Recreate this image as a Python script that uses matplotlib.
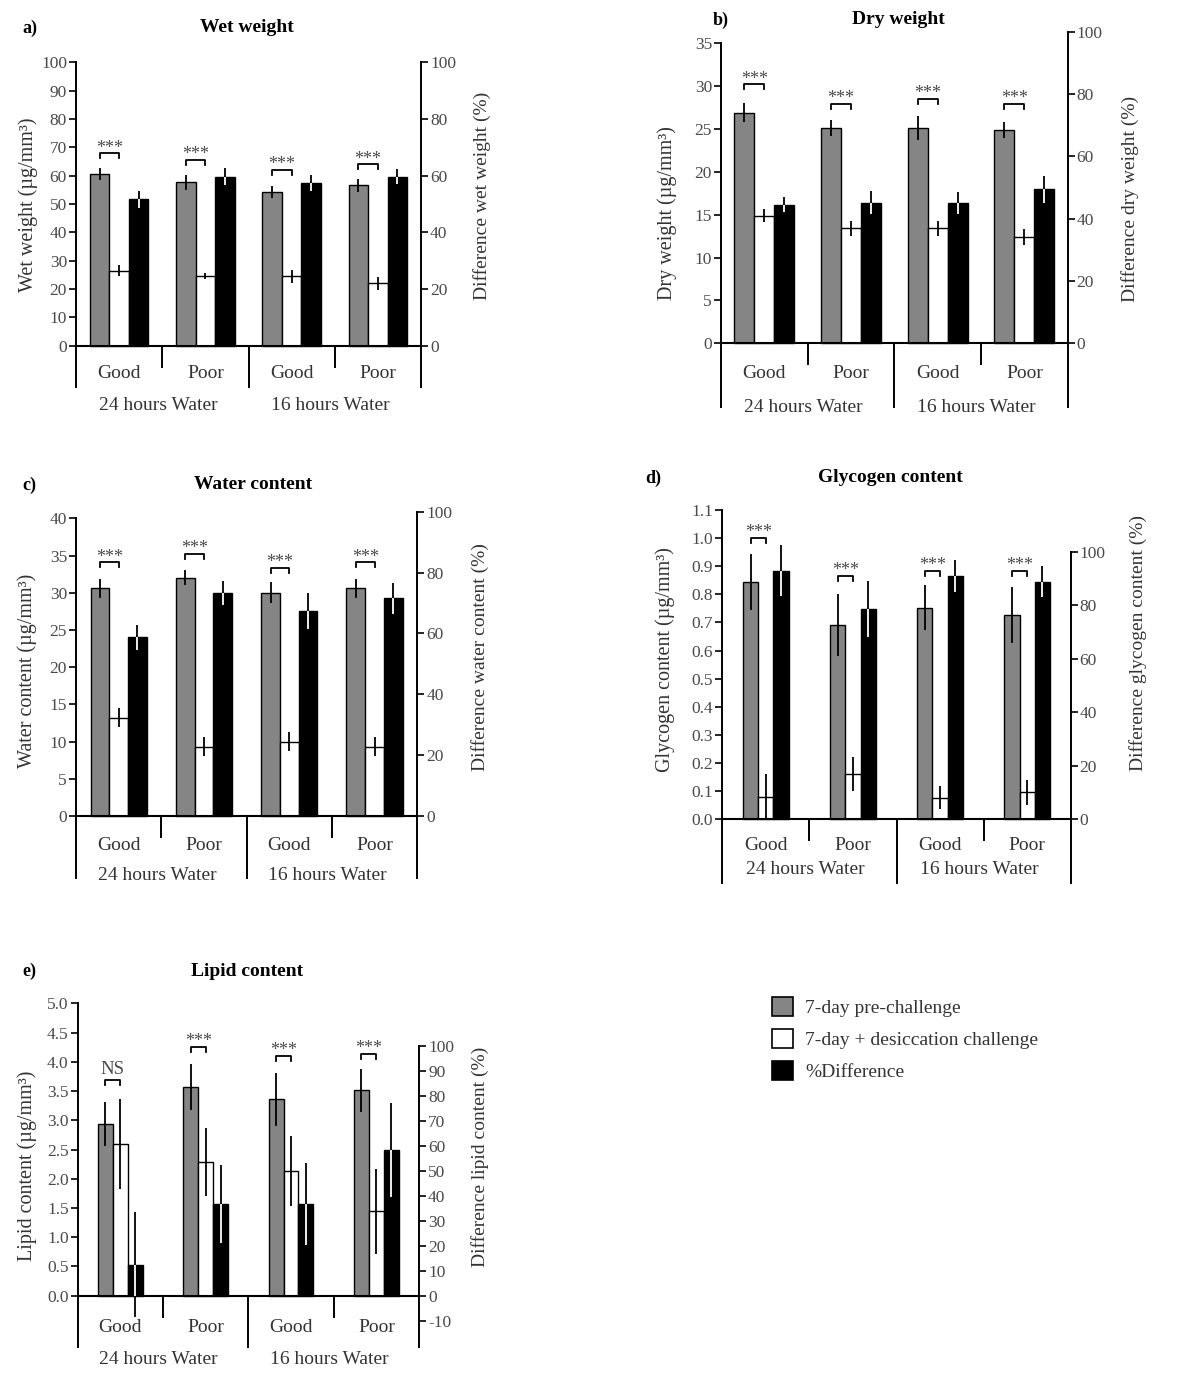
import matplotlib
matplotlib.use('Agg')
import matplotlib.pyplot as plt
import numpy as np
from matplotlib.patches import Patch

W, H = 1200, 1377
plt.rcParams['font.family'] = ['Liberation Serif', 'DejaVu Serif']

categories = ['Good', 'Poor', 'Good', 'Poor']
groups = ['24 hours Water', '16 hours Water']
legend_labels = ['7-day pre-challenge', '7-day + desiccation challenge', '%Difference']

# ---- a) Wet weight
wet_pre = [60.6, 57.7, 54.2, 56.6]
wet_pre_err = [2.0, 2.6, 2.2, 2.3]
wet_chal = [26.5, 24.6, 24.5, 22.0]
wet_chal_err = [2.0, 1.2, 2.3, 2.2]
wet_diff = [51.6, 59.7, 57.3, 59.7]
wet_diff_err = [2.9, 2.9, 2.8, 2.8]
wet_sig = ['***', '***', '***', '***']
wet_sig_y = [67.9, 65.5, 62.0, 64.0]

# ---- b) Dry weight
dry_pre = [26.9, 25.1, 25.1, 24.9]
dry_pre_err = [1.1, 0.9, 1.4, 0.9]
dry_chal = [14.9, 13.4, 13.4, 12.4]
dry_chal_err = [0.8, 0.85, 0.9, 0.9]
dry_diff = [44.5, 45.1, 45.1, 49.4]
dry_diff_err = [2.4, 3.7, 3.5, 4.4]
dry_sig = ['***', '***', '***', '***']
dry_sig_y = [30.2, 27.9, 28.5, 27.9]

# ---- c) Water content
water_pre = [30.6, 32.0, 30.0, 30.6]
water_pre_err = [1.3, 1.0, 1.4, 1.3]
water_chal = [13.2, 9.3, 10.0, 9.3]
water_chal_err = [1.3, 1.3, 1.3, 1.3]
water_diff = [58.7, 73.2, 67.4, 71.5]
water_diff_err = [4.0, 4.0, 6.0, 5.0]
water_sig = ['***', '***', '***', '***']
water_sig_y = [34.1, 35.2, 33.3, 34.1]

# ---- d) Glycogen content
glyc_pre = [0.845, 0.691, 0.753, 0.727]
glyc_pre_err = [0.10, 0.11, 0.08, 0.10]
glyc_chal = [0.08, 0.16, 0.077, 0.096]
glyc_chal_err = [0.08, 0.06, 0.04, 0.045]
glyc_diff = [92.9, 78.5, 90.9, 88.8]
glyc_diff_err = [9.6, 10.5, 6.0, 5.7]
glyc_sig = ['***', '***', '***', '***']
glyc_sig_y = [1.0, 0.865, 0.883, 0.883]

# ---- e) Lipid content
lipid_pre = [2.94, 3.57, 3.36, 3.51]
lipid_pre_err = [0.38, 0.40, 0.45, 0.37]
lipid_chal = [2.59, 2.28, 2.13, 1.44]
lipid_chal_err = [0.77, 0.58, 0.60, 0.72]
lipid_diff = [12.3, 36.7, 36.7, 58.3]
lipid_diff_err = [21.0, 15.5, 16.5, 18.7]
lipid_sig = ['NS', '***', '***', '***']
lipid_sig_y = [3.69, 4.26, 4.10, 4.13]

GRAY = '#858585'
TXT = '#333333'
TICK = '#4a4a4a'

fig = plt.figure(figsize=(W / 100, H / 100), dpi=100)


def ftext(x, y, s, **kw):
    fig.text(x / W, 1 - y / H, s, **kw)


panels = [
    dict(letter='a)', title='Wet weight', lx=22, ly=28, tx=247, ty=28,
         px=(76, 421, 345.7, 62.3, 100, 62.3, 387), lticks=np.arange(0, 101, 10), lfmt='%d',
         rticks=np.arange(0, 101, 20), width=0.227,
         ylab='Wet weight (µg/mm³)', ylab_xy=(28, 205),
         rlab='Difference wet weight (%)', rlab_xy=(482, 196),
         cat_y=373, grp_y=405,
         pre=wet_pre, pre_err=wet_pre_err, chal=wet_chal, chal_err=wet_chal_err,
         diff=wet_diff, diff_err=wet_diff_err, sig=wet_sig, sig_y=wet_sig_y),
    dict(letter='b)', title='Dry weight', lx=713, ly=20, tx=898, ty=20,
         px=(721, 1067.7, 343.3, 43.3, 35, 31.7, 407), lticks=np.arange(0, 36, 5), lfmt='%d',
         rticks=np.arange(0, 101, 20), width=0.23,
         ylab='Dry weight (µg/mm³)', ylab_xy=(667, 213),
         rlab='Difference dry weight (%)', rlab_xy=(1130, 199),
         cat_y=373, grp_y=408,
         pre=dry_pre, pre_err=dry_pre_err, chal=dry_chal, chal_err=dry_chal_err,
         diff=dry_diff, diff_err=dry_diff_err, sig=dry_sig, sig_y=dry_sig_y),
    dict(letter='c)', title='Water content', lx=22, ly=485, tx=253, ty=485,
         px=(76, 417.3, 816, 518.3, 40, 511.7, 878), lticks=np.arange(0, 41, 5), lfmt='%d',
         rticks=np.arange(0, 101, 20), width=0.22,
         ylab='Water content (µg/mm³)', ylab_xy=(27, 671),
         rlab='Difference water content (%)', rlab_xy=(480, 657),
         cat_y=846, grp_y=876,
         pre=water_pre, pre_err=water_pre_err, chal=water_chal, chal_err=water_chal_err,
         diff=water_diff, diff_err=water_diff_err, sig=water_sig, sig_y=water_sig_y),
    dict(letter='d)', title='Glycogen content', lx=645, ly=478, tx=890, ty=478,
         px=(722.3, 1070.7, 819.3, 510, 1.1, 551.7, 882.7), lticks=np.linspace(0, 1.1, 12), lfmt='%.1f',
         rticks=np.arange(0, 101, 20), width=0.175,
         ylab='Glycogen content (µg/mm³)', ylab_xy=(665, 660),
         rlab='Difference glycogen content (%)', rlab_xy=(1138, 643),
         cat_y=845, grp_y=870,
         pre=glyc_pre, pre_err=glyc_pre_err, chal=glyc_chal, chal_err=glyc_chal_err,
         diff=glyc_diff, diff_err=glyc_diff_err, sig=glyc_sig, sig_y=glyc_sig_y),
    dict(letter='e)', title='Lipid content', lx=22, ly=971, tx=247, ty=971,
         px=(77.7, 419, 1295.7, 1003.3, 5.0, 1045.7, 1346.7), lticks=np.linspace(0, 5, 11), lfmt='%.1f',
         rticks=np.arange(-10, 101, 10), width=0.175,
         ylab='Lipid content (µg/mm³)', ylab_xy=(27, 1166),
         rlab='Difference lipid content (%)', rlab_xy=(480, 1157),
         cat_y=1328, grp_y=1359,
         pre=lipid_pre, pre_err=lipid_pre_err, chal=lipid_chal, chal_err=lipid_chal_err,
         diff=lipid_diff, diff_err=lipid_diff_err, sig=lipid_sig, sig_y=lipid_sig_y),
]

x = np.arange(4) + 0.5

for p in panels:
    xL, xR, y0, yTopL, topL, yTopR, yBot = p['px']
    axTop = min(yTopL, yTopR) - 4
    ax = fig.add_axes([xL / W, 1 - yBot / H, (xR - xL) / W, (yBot - axTop) / H])
    ax2 = ax.twinx()
    sL = (y0 - yTopL) / topL
    sR = (y0 - yTopR) / 100.0
    ylimL = (-(yBot - y0) / sL, (y0 - axTop) / sL)
    ylimR = (-(yBot - y0) / sR, (y0 - axTop) / sR)
    ax.set_xlim(0, 4)
    ax.set_ylim(*ylimL)
    ax2.set_ylim(*ylimR)
    ax.patch.set_visible(False)
    ax2.patch.set_visible(False)

    for s in ['top', 'bottom', 'right']:
        ax.spines[s].set_visible(False)
    for s in ['top', 'bottom', 'left']:
        ax2.spines[s].set_visible(False)
    ax.spines['left'].set_bounds(ylimL[0], topL)
    ax2.spines['right'].set_bounds(ylimR[0], 100)
    ax.spines['left'].set_linewidth(1.4)
    ax2.spines['right'].set_linewidth(1.4)

    ax.set_xticks([])
    ax.set_yticks(p['lticks'])
    ax.set_yticklabels([p['lfmt'] % v for v in p['lticks']])
    ax2.set_yticks(p['rticks'])
    ax2.set_yticklabels(['%d' % v for v in p['rticks']])
    for a in (ax, ax2):
        a.tick_params(axis='y', direction='out', length=5, width=1.2, labelsize=12.5,
                      labelcolor=TICK, pad=1.5)

    w = p['width']
    ax.bar(x - w, p['pre'], w, color=GRAY, edgecolor='black', linewidth=1.0, zorder=2)
    ax.bar(x, p['chal'], w, color='white', edgecolor='black', linewidth=1.0, zorder=2)
    ax2.bar(x + w, p['diff'], w, color='black', edgecolor='black', linewidth=1.0, zorder=2)

    pre = np.array(p['pre']); pe = np.array(p['pre_err'])
    ch = np.array(p['chal']); ce = np.array(p['chal_err'])
    df = np.array(p['diff']); de = np.array(p['diff_err'])
    ax.vlines(x - w, pre - pe, pre + pe, color='black', lw=1.3, zorder=3)
    ax.vlines(x, ch - ce, ch + ce, color='black', lw=1.3, zorder=3)
    ax2.vlines(x + w, df - de, df + de, color='black', lw=1.3, zorder=3)
    ax2.vlines(x + w, np.maximum(0, df - de), df, color='white', lw=1.3, zorder=4)

    # x axis line and separators
    ax.plot([0, 4], [0, 0], color='black', lw=1.5, clip_on=False, zorder=5)
    ax.plot([2, 2], [ylimL[0], 0], color='black', lw=1.4, clip_on=False)
    short = -21 / sL
    for xs in (1, 3):
        ax.plot([xs, xs], [short, 0], color='black', lw=1.4, clip_on=False)

    # significance brackets
    leg = 5 / sL
    for i in range(4):
        h = p['sig_y'][i]
        xa, xb = x[i] - w, x[i]
        ax.plot([xa, xa, xb, xb], [h - leg, h, h, h - leg], color='black', lw=1.3,
                clip_on=False, zorder=4)
        lab = p['sig'][i]
        off = 0.5 if lab == '***' else 4.5
        ax.annotate(lab, xy=((xa + xb) / 2, h), xytext=(0, off), textcoords='offset points',
                    ha='center', va='baseline', fontsize=13 if lab == '***' else 13.5,
                    color=TICK, annotation_clip=False)

    # category labels
    for i, c in enumerate(categories):
        ax.text(x[i], -(p['cat_y'] - y0) / sL, c, ha='center', va='center', fontsize=14,
                color=TXT, clip_on=False)
    for j, g in enumerate(groups):
        ax.text(1 + 2 * j - 0.05, -(p['grp_y'] - y0) / sL, g, ha='center', va='center',
                fontsize=14, color=TXT, clip_on=False)

    ftext(p['lx'], p['ly'], p['letter'], ha='left', va='center', fontsize=13, fontweight='bold')
    ftext(p['tx'], p['ty'], p['title'], ha='center', va='center', fontsize=14, fontweight='bold')
    ftext(p['ylab_xy'][0], p['ylab_xy'][1], p['ylab'], ha='center', va='center', rotation=90,
          fontsize=14.5, color=TXT)
    ftext(p['rlab_xy'][0], p['rlab_xy'][1], p['rlab'], ha='center', va='center', rotation=90,
          fontsize=14, color=TXT)

handles = [Patch(facecolor=GRAY, edgecolor='black', linewidth=1.2),
           Patch(facecolor='white', edgecolor='black', linewidth=1.2),
           Patch(facecolor='black', edgecolor='black', linewidth=1.2)]
leg = fig.legend(handles, legend_labels, loc='upper left',
                 bbox_to_anchor=(772 / W, 1 - 997 / H), frameon=False, fontsize=14,
                 handlelength=1.1, handleheight=1.1, handletextpad=0.6, labelspacing=0.62,
                 borderpad=0, borderaxespad=0)
for t in leg.get_texts():
    t.set_color(TXT)

fig.savefig('out.png', dpi=100)
